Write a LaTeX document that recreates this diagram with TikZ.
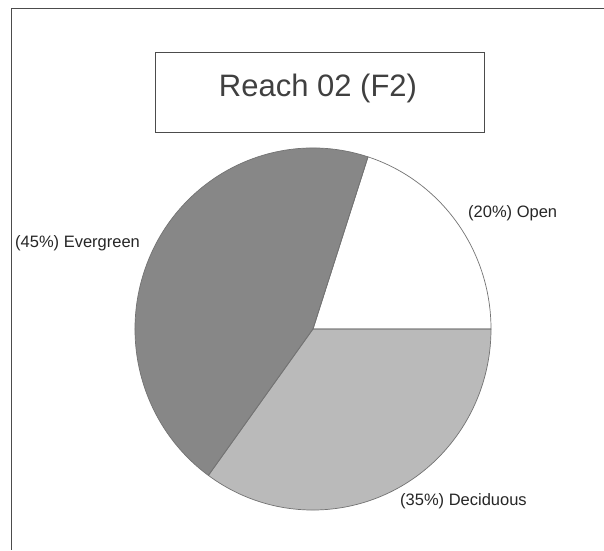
\documentclass[tikz,border=0pt]{standalone}
\usepackage{fontspec}
\setmainfont{Liberation Sans}
\begin{document}
\begin{tikzpicture}[x=1pt,y=1pt,
  slice/.style={draw=black!55, line width=0.7pt, line join=round},
  lbl/.style={font=\fontsize{16.5}{19}\selectfont, text=black!85, inner sep=0pt}]
\useasboundingbox (0,0) rectangle (604,550);
\fill[white] (0,0) rectangle (604,550);
% outer frame (only top and left edges visible)
\coordinate (fTL) at (11,541);
\coordinate (fTR) at (604,541);
\coordinate (fBL) at (11,0);
\draw[black!70, line width=1pt] (fTR) -- (fTL) -- (fBL);
% title
\node[draw=black!70, line width=0.8pt, minimum width=329pt, minimum height=80pt, inner sep=0pt] (titlebox) at (319.5,458) {};
\node[font=\fontsize{31}{36}\selectfont, text=black!75, inner sep=0pt] (title) at (318,462) {Reach 02 (F2)};
% pie
\coordinate (c) at (313,221);
\fill[white] (c) -- ++(178,0) arc[start angle=0, end angle=72, x radius=178, y radius=181] -- cycle;
\fill[black!47] (c) -- ++({178*cos(72)},{181*sin(72)}) arc[start angle=72, end angle=234, x radius=178, y radius=181] -- cycle;
\fill[black!27] (c) -- ++({178*cos(234)},{181*sin(234)}) arc[start angle=234, end angle=360, x radius=178, y radius=181] -- cycle;
\draw[slice] (c) -- ++(178,0) arc[start angle=0, end angle=72, x radius=178, y radius=181] -- cycle;
\draw[slice] (c) -- ++({178*cos(72)},{181*sin(72)}) arc[start angle=72, end angle=234, x radius=178, y radius=181] -- cycle;
\draw[slice] (c) -- ++({178*cos(234)},{181*sin(234)}) arc[start angle=234, end angle=360, x radius=178, y radius=181] -- cycle;
% labels
\node[lbl, anchor=west] (ever) at (15,307) {(45\%) Evergreen};
\node[lbl, anchor=west] (open) at (468,337) {(20\%) Open};
\node[lbl, anchor=west] (dec) at (400,49) {(35\%) Deciduous};
\end{tikzpicture}
\end{document}
